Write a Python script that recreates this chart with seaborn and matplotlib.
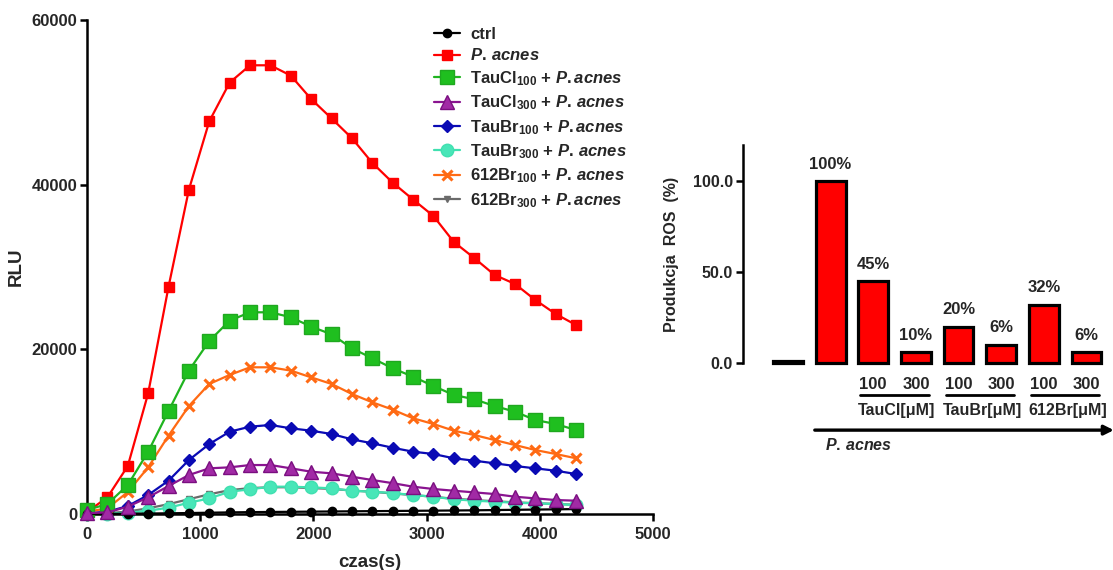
import numpy as np
import pandas as pd
import matplotlib
matplotlib.use("Agg")
import matplotlib.pyplot as plt
import seaborn as sns

# ---------------- data ----------------
time_s = [0, 180, 360, 540, 720, 900, 1080, 1260, 1440, 1620, 1800, 1980, 2160,
          2340, 2520, 2700, 2880, 3060, 3240, 3420, 3600, 3780, 3960, 4140, 4320]

ctrl = [0, 20, 40, 60, 90, 120, 160, 200, 230, 250, 270, 290, 310, 330, 350, 370,
        390, 410, 430, 450, 480, 510, 540, 570, 600]
p_acnes = [250, 2030, 5830, 14660, 27600, 39400, 47700, 52400, 54500, 54500, 53250,
           50400, 48050, 45650, 42650, 40250, 38200, 36200, 33050, 31100, 29040,
           27950, 26000, 24300, 22960]
taucl100 = [490, 1215, 3520, 7570, 12510, 17420, 21020, 23490, 24500, 24500, 23900,
            22760, 21830, 20130, 18920, 17700, 16680, 15550, 14460, 13940, 13120,
            12430, 11420, 10935, 10200]
taucl300 = [100, 200, 890, 2030, 3400, 4740, 5550, 5670, 5950, 5950, 5550, 5140,
            4940, 4530, 4130, 3750, 3320, 3040, 2830, 2630, 2430, 2100, 1900, 1700, 1620]
taubr100 = [100, 280, 970, 2310, 4050, 6560, 8500, 10000, 10610, 10815, 10410, 10120,
            9720, 9070, 8590, 8050, 7570, 7290, 6770, 6480, 6160, 5830, 5550, 5260, 4860]
taubr300 = [0, 50, 150, 400, 770, 1370, 1900, 2710, 3000, 3320, 3320, 3240, 3120,
            2830, 2710, 2550, 2310, 2100, 1790, 1620, 1500, 1370, 1300, 1215, 1090]
br612_100 = [280, 690, 2670, 5670, 9520, 13120, 15800, 16890, 17820, 17820, 17420,
             16600, 15800, 14580, 13570, 12680, 11630, 10935, 10120, 9600, 8990, 8380,
             7775, 7290, 6770]
br612_300 = [0, 100, 300, 700, 1200, 1800, 2400, 2900, 3150, 3250, 3250, 3150, 3050,
             2850, 2700, 2500, 2300, 2100, 1850, 1700, 1550, 1420, 1320, 1220, 1120]

series_labels = [
    "ctrl",
    r"$\mathit{P.\,acnes}$",
    r"TauCl$_{100}$ + $\mathit{P.acnes}$",
    r"TauCl$_{300}$ + $\mathit{P.\,acnes}$",
    r"TauBr$_{100}$ + $\mathit{P.acnes}$",
    r"TauBr$_{300}$ + $\mathit{P.\,acnes}$",
    r"612Br$_{100}$ + $\mathit{P.\,acnes}$",
    r"612Br$_{300}$ + $\mathit{P.acnes}$",
]
series_values = [ctrl, p_acnes, taucl100, taucl300, taubr100, taubr300, br612_100, br612_300]

bar_values = [1, 100, 45, 6, 20, 10, 32, 6]
pct_labels = ["", "100%", "45%", "10%", "20%", "6%", "32%", "6%"]
dose_labels = ["", "", "100", "300", "100", "300", "100", "300"]
group_labels = ["TauCl[\u03bcM]", "TauBr[\u03bcM]", "612Br[\u03bcM]"]

# ---------------- style ----------------
sns.set_theme(style="ticks")
plt.rcParams["font.family"] = ["Liberation Sans", "DejaVu Sans"]
plt.rcParams["font.weight"] = "bold"
plt.rcParams["axes.labelweight"] = "bold"
plt.rcParams["mathtext.fontset"] = "custom"
plt.rcParams["mathtext.rm"] = "Liberation Sans:bold"
plt.rcParams["mathtext.it"] = "Liberation Sans:italic:bold"
plt.rcParams["mathtext.bf"] = "Liberation Sans:bold"

fig = plt.figure(figsize=(11.13, 5.70), dpi=100)

# ---------------- left: kinetics ----------------
ax = fig.add_axes([0.0782, 0.0982, 0.5085, 0.8667])

styles = [
    dict(color="#000000", marker="o", markersize=6, mfc="#000000", mec="#000000", z=6),
    dict(color="#ff0000", marker="s", markersize=7.5, mfc="#ff0000", mec="#ff0000", z=4),
    dict(color="#1fb41f", marker="s", markersize=10, mfc="#1fbf1f", mec="#1fa81f", z=5),
    dict(color="#8a1490", marker="^", markersize=9.5, mfc="#a12aa5", mec="#7a0f80", z=7),
    dict(color="#0a0ab4", marker="D", markersize=6.5, mfc="#0a0ab4", mec="#0a0ab4", z=3),
    dict(color="#40e0b0", marker="o", markersize=9, mfc="#48e6b8", mec="#40e0b0", z=2),
    dict(color="#ff6a13", marker="x", markersize=7, mfc="#ff6a13", mec="#ff6a13", z=3),
    dict(color="#6a6a6a", marker="v", markersize=5, mfc="#6a6a6a", mec="#6a6a6a", z=1),
]

for lab, vals, st in zip(series_labels, series_values, styles):
    df = pd.DataFrame({"t": time_s, "v": vals})
    sns.lineplot(data=df, x="t", y="v", ax=ax, color=st["color"], marker=st["marker"],
                 markersize=st["markersize"], markerfacecolor=st["mfc"],
                 markeredgecolor=st["mec"], markeredgewidth=2.2 if st["marker"] == "x" else 1.0,
                 linewidth=1.6, label=lab, zorder=st["z"], clip_on=False)

ax.set_xlim(0, 5000)
ax.set_ylim(0, 60000)
ax.set_xticks(range(0, 5001, 1000))
ax.set_yticks([0, 20000, 40000, 60000])
ax.set_xlabel("czas(s)", fontsize=13.5, fontweight="bold", labelpad=9)
ax.set_ylabel("RLU", fontsize=13.5, fontweight="bold", labelpad=5)
for sp in ["top", "right"]:
    ax.spines[sp].set_visible(False)
for sp in ["left", "bottom"]:
    ax.spines[sp].set_linewidth(1.8)
    ax.spines[sp].set_color("black")
ax.tick_params(axis="both", length=5, width=1.8, labelsize=12, color="black", pad=2)
ax.tick_params(axis="x", pad=4)
for t in ax.get_xticklabels() + ax.get_yticklabels():
    t.set_fontweight("bold")

handles, labels = ax.get_legend_handles_labels()
leg = ax.legend(handles, labels, loc="upper left", bbox_to_anchor=(0.592, 1.01),
                frameon=False, prop=dict(size=12, weight="bold"), handlelength=1.6,
                handletextpad=0.6, labelspacing=0.34, borderaxespad=0.3)

# ---------------- right: bars ----------------
ax2 = fig.add_axes([0.6673, 0.3626, 0.3300, 0.3830])
pos = list(range(len(bar_values)))
bdf = pd.DataFrame({"pos": pos, "val": bar_values})
sns.barplot(data=bdf, x="pos", y="val", ax=ax2, color="#ff0000", edgecolor="black",
            linewidth=2.3, width=0.7, saturation=1, native_scale=True)
for p in ax2.patches:
    p.set_clip_on(False)
ax2.set_xlim(-1.06, 7.55)
ax2.set_ylim(0, 120)
ax2.set_yticks([0, 50, 100])
ax2.set_yticklabels(["0.0", "50.0", "100.0"])
ax2.set_xticks([])
ax2.set_xlabel("")
ax2.set_ylabel("Produkcja  ROS  (%)", fontsize=11.5, fontweight="bold", labelpad=10)
for sp in ["top", "right", "bottom"]:
    ax2.spines[sp].set_visible(False)
ax2.spines["left"].set_linewidth(1.8)
ax2.spines["left"].set_color("black")
ax2.tick_params(axis="y", length=5, width=1.8, labelsize=11.5, color="black", pad=2)
for t in ax2.get_yticklabels():
    t.set_fontweight("bold")

for x, v, s in zip(pos, bar_values, pct_labels):
    if s:
        ax2.text(x, v + 9.5, s, ha="center", va="center", fontsize=12, fontweight="bold")

tr = ax2.get_xaxis_transform()
for x, s in zip(pos, dose_labels):
    if s:
        ax2.text(x, -0.095, s, transform=tr, ha="center", va="center", fontsize=12,
                 fontweight="bold")
for k, g in enumerate(group_labels):
    i = 2 + 2 * k
    ax2.plot([i - 0.3, i + 1.3], [-0.143, -0.143], transform=tr, color="black",
             lw=2.0, clip_on=False)
    ax2.text(i + 0.55, -0.215, g, transform=tr, ha="center", va="center", fontsize=11.5,
             fontweight="bold")
ax2.annotate("", xy=(7.64, -0.306), xytext=(0.63, -0.306), xycoords=tr, textcoords=tr,
             arrowprops=dict(arrowstyle="-|>", lw=2.4, color="black", mutation_scale=14,
                             shrinkA=0, shrinkB=0), annotation_clip=False)
ax2.text(1.66, -0.375, r"$\mathit{P.\,acnes}$", transform=tr, ha="center", va="center",
         fontsize=11.5)

fig.savefig("out.png", dpi=100)
